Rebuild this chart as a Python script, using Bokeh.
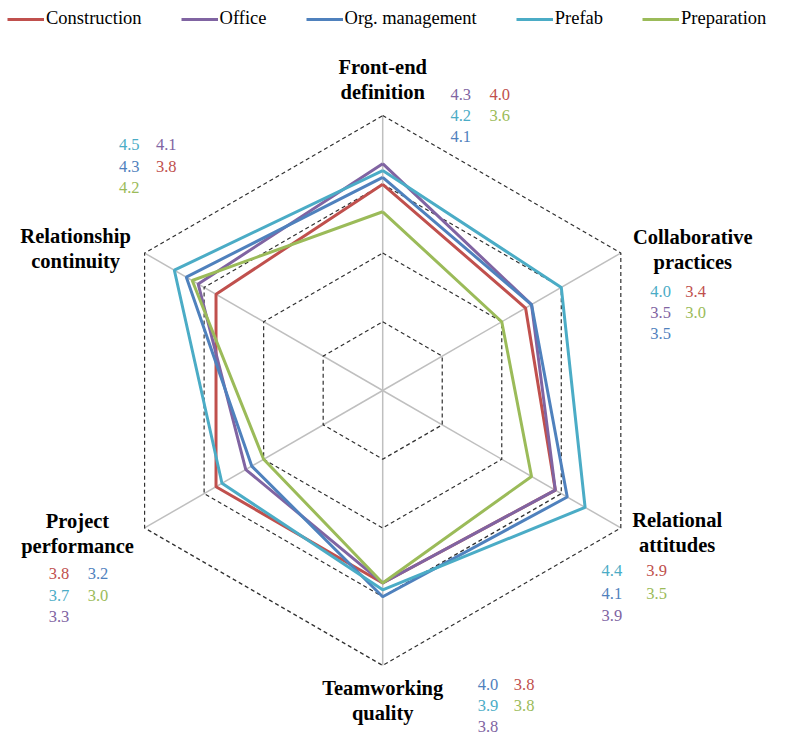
import math
from bokeh.plotting import figure
from bokeh.models import Legend, LegendItem, ColumnDataSource
from bokeh.core.properties import value
from bokeh.embed import file_html
from bokeh.resources import INLINE

# ---- data ----
axes_labels = ["Front-end\ndefinition", "Collaborative\npractices", "Relational\nattitudes",
               "Teamworking\nquality", "Project\nperformance", "Relationship\ncontinuity"]
series_names = ["Construction", "Office", "Org. management", "Prefab", "Preparation"]
construction = [4.0, 3.4, 3.9, 3.8, 3.8, 3.8]
office = [4.3, 3.5, 3.9, 3.8, 3.3, 4.1]
org_management = [4.1, 3.5, 4.1, 4.0, 3.2, 4.3]
prefab = [4.2, 4.0, 4.4, 3.9, 3.7, 4.5]
preparation = [3.6, 3.0, 3.5, 3.8, 3.0, 4.2]
scale_min, scale_max = 1, 5
ring_values = [2, 3, 4, 5]

series_values = [construction, office, org_management, prefab, preparation]
colors = ["#C0504D", "#8064A2", "#4F81BD", "#4BACC6", "#9BBB59"]
tie_rank = {"Office": 0, "Org. management": 1, "Prefab": 2, "Construction": 3, "Preparation": 4}

# ---- layout ----
W, H = 792, 737
S = 0.975                  # overall scale of the layout
CXr, CYr = 392, 400        # centre in reference layout pixels
R = 282 * S                # radius of the outer ring (pixels)
angles = [90, 30, -30, -90, -150, 150]
SERIF = "Liberation Serif"

def rad(v):
    return (v - scale_min) / (scale_max - scale_min) * R

def pt(v, k):
    a = math.radians(angles[k])
    return rad(v) * math.cos(a), rad(v) * math.sin(a)

def to_data(px, py):
    return (px - CXr) * S, (CYr - py) * S

p = figure(width=W, height=H, output_backend="svg", toolbar_location=None,
           x_range=(-CXr * S, W - CXr * S), y_range=(-(H - CYr * S), CYr * S), min_border=0)
p.axis.visible = False
p.grid.visible = False
p.outline_line_color = None
p.background_fill_color = "white"

# spokes
for k in range(6):
    x, y = pt(scale_max, k)
    p.line([0, x], [0, y], line_color="#BFBFBF", line_width=1.5)

# rings
for rv in ring_values:
    xs = [pt(rv, k)[0] for k in range(6)] + [pt(rv, 0)[0]]
    ys = [pt(rv, k)[1] for k in range(6)] + [pt(rv, 0)[1]]
    p.line(xs, ys, line_color="#303030", line_width=1.2, line_dash="4 3")

# series
renderers = []
for name, vals, col in zip(series_names, series_values, colors):
    xs = [pt(v, k)[0] for k, v in enumerate(vals)] + [pt(vals[0], 0)[0]]
    ys = [pt(v, k)[1] for k, v in enumerate(vals)] + [pt(vals[0], 0)[1]]
    r = p.line(xs, ys, line_color=col, line_width=3)
    renderers.append(r)

# axis labels (centre of first line, reference layout px)
label_pos = [(392, 68), (710, 243), (694, 533), (392, 705), (79, 534), (77, 242)]
num_pos = [(472, 96, 40, 21.5), (677, 298, 36, 22), (627, 585, 46, 23),
           (500, 702, 37, 21.5), (60, 588, 40, 22), (132, 148, 38, 22)]
LINE_GAP = 25.5

for k, lab in enumerate(axes_labels):
    lines = lab.split("\n")
    for j, ln in enumerate(lines):
        lx, ly = to_data(label_pos[k][0], label_pos[k][1] + j * LINE_GAP)
        p.text([lx], [ly], text=[ln], text_font=value(SERIF), text_font_style="bold",
               text_font_size="20.5px", text_align="center", text_baseline="middle",
               text_color="#000000")
    entries = sorted(range(5), key=lambda s: (-series_values[s][k], tie_rank[series_names[s]]))
    bx, by, dx, dy = num_pos[k]
    tx, ty, tt, tc = [], [], [], []
    for i, s in enumerate(entries):
        c, rr = i // 3, i % 3
        x, y = to_data(bx + c * dx, by + rr * dy)
        tx.append(x); ty.append(y); tt.append(f"{series_values[s][k]:.1f}"); tc.append(colors[s])
    p.text(x="x", y="y", text="t", text_color="c",
           source=ColumnDataSource(dict(x=tx, y=ty, t=tt, c=tc)),
           text_font=value(SERIF), text_font_size="16.5px", text_align="center",
           text_baseline="middle")

legend = Legend(items=[LegendItem(label=n, renderers=[r]) for n, r in zip(series_names, renderers)],
                orientation="horizontal", location=(7, H - 9 - 20), padding=0, margin=0,
                spacing=39, glyph_width=37, glyph_height=20, label_standoff=2,
                label_height=20,
                label_text_font=SERIF, label_text_font_size="18.5px", label_text_color="#000000",
                border_line_alpha=0, background_fill_alpha=0)
p.add_layout(legend)

open("out.html", "w").write(file_html(p, INLINE))
